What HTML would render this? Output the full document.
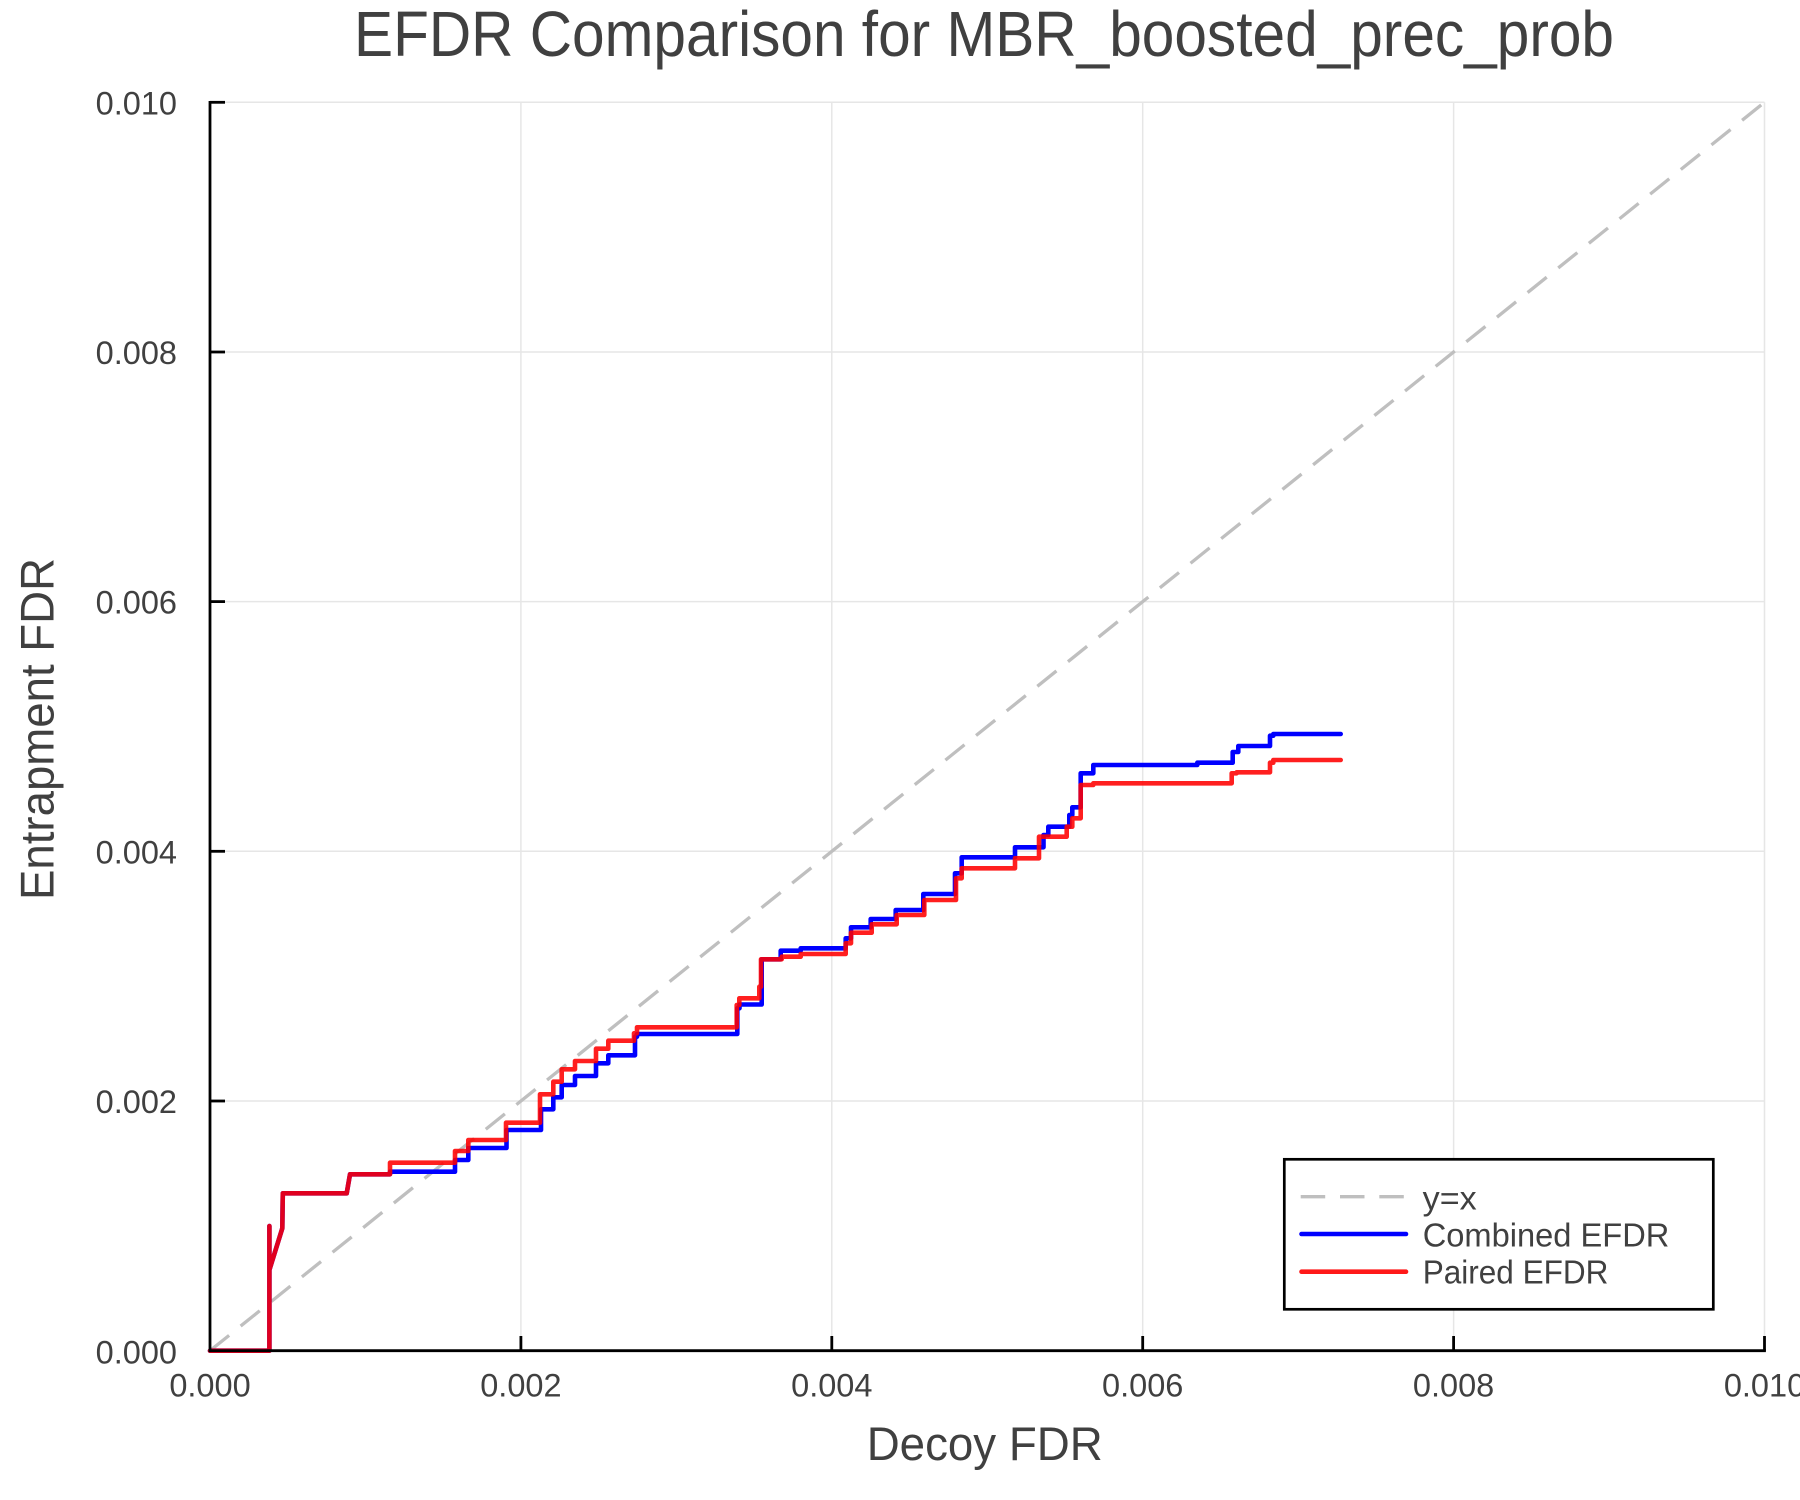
<!DOCTYPE html>
<html>
<head>
<meta charset="utf-8">
<style>
html,body{margin:0;padding:0;background:#fff;}
svg{display:block;}
text{font-family:"Liberation Sans",Arial,Helvetica,sans-serif;fill:#404040;}
</style>
</head>
<body>
<svg width="1800" height="1500" viewBox="0 0 1800 1500" xmlns="http://www.w3.org/2000/svg">
<rect x="0" y="0" width="1800" height="1500" fill="#fff"/>

<!-- grid -->
<g stroke="#e6e6e6" stroke-width="1.5">
  <line x1="520.9" y1="102.3" x2="520.9" y2="1350.7"/>
  <line x1="831.8" y1="102.3" x2="831.8" y2="1350.7"/>
  <line x1="1142.7" y1="102.3" x2="1142.7" y2="1350.7"/>
  <line x1="1453.6" y1="102.3" x2="1453.6" y2="1350.7"/>
  <line x1="1764.5" y1="102.3" x2="1764.5" y2="1350.7"/>
  <line x1="210" y1="1101" x2="1764.5" y2="1101"/>
  <line x1="210" y1="851.3" x2="1764.5" y2="851.3"/>
  <line x1="210" y1="601.6" x2="1764.5" y2="601.6"/>
  <line x1="210" y1="352" x2="1764.5" y2="352"/>
  <line x1="210" y1="102.3" x2="1764.5" y2="102.3"/>
</g>

<!-- y = x dashed -->
<line x1="210" y1="1350.7" x2="1764.5" y2="102.3" stroke="#bfbfbf" stroke-width="3.3" stroke-dasharray="24.5 14.8"/>

<!-- Combined EFDR (blue) -->
<polyline fill="none" stroke="#0000ff" stroke-width="4.6" stroke-linejoin="round" stroke-linecap="round" points="
210,1350.7 269.4,1350.7 269.4,1226 269.4,1270 282.3,1228.3 282.8,1193.3 346.7,1193.3 350,1174.3 390,1174.3 390,1171.7 455,1171.7 455,1160 468.3,1160 468.3,1148 506.5,1148 506.5,1130 541,1130 541,1109.3 553.3,1109.3 553.3,1097.3 561.7,1097.3 561.7,1085 575,1085 575,1076 596,1076 596,1063.3 608.3,1063.3 608.3,1055.3 635,1055.3 635,1036.7 637,1036.7 637,1034 737.3,1034 737.3,1008.3 739.5,1008.3 739.5,1004.5 761.7,1004.5 761.7,959.3 780.7,959.3 780.7,950.7 800.7,950.7 800.7,948.3 845.7,948.3 845.7,938.3 851,938.3 851,927.3 870.7,927.3 870.7,919 895.7,919 895.7,910 923.3,910 923.3,894 955,894 955,873.3 961.7,873.3 961.7,857.3 1015,857.3 1015,847.3 1043.5,847.3 1043.5,835 1048.3,835 1048.3,826.7 1069.3,826.7 1069.3,815 1072.3,815 1072.3,807.3 1080.7,807.3 1080.7,773.3 1093.3,773.3 1093.3,765 1197.3,765 1197.3,762.7 1232.7,762.7 1232.7,752 1238.3,752 1238.3,746 1270,746 1270,735.7 1273.3,735.7 1273.3,734 1340.7,734"/>

<!-- Paired EFDR (red) -->
<polyline fill="none" stroke="#ff0000" stroke-opacity="0.88" stroke-width="4.6" stroke-linejoin="round" stroke-linecap="round" points="
210,1350.7 269.4,1350.7 269.4,1226 269.4,1270 282.3,1228.3 282.8,1193.3 346.7,1193.3 350,1174.3 390,1174.3 390,1162.7 455,1162.7 455,1151 468.3,1151 468.3,1140 506,1140 506,1122.7 540,1122.7 540,1094.3 553.3,1094.3 553.3,1081.7 561.7,1081.7 561.7,1069.3 575,1069.3 575,1061 596,1061 596,1048.7 608.3,1048.7 608.3,1040.7 634,1040.7 634,1033.3 637,1033.3 637,1027.3 736.7,1027.3 736.7,1005 739.3,1005 739.3,998.3 759.3,998.3 759.3,986.7 761,986.7 761,959.3 781.7,959.3 781.7,956.7 800.7,956.7 800.7,954 845.7,954 845.7,943.3 851,943.3 851,932.7 871.7,932.7 871.7,924.3 896.7,924.3 896.7,915 924.3,915 924.3,900 956,900 956,878.3 961.7,878.3 961.7,868.3 1015,868.3 1015,858.3 1039,858.3 1039,836.7 1066.7,836.7 1066.7,826.7 1072.3,826.7 1072.3,818.3 1080.7,818.3 1080.7,785 1093.3,785 1093.3,783.3 1231.7,783.3 1231.7,773.3 1236.7,773.3 1236.7,772.3 1270,772.3 1270,762.7 1273.3,762.7 1273.3,760 1340.7,760"/>

<!-- axes -->
<g stroke="#000" stroke-width="2.8" fill="none">
  <line x1="210" y1="101" x2="210" y2="1352"/>
  <line x1="208.6" y1="1350.7" x2="1765.9" y2="1350.7"/>
  <!-- y ticks -->
  <line x1="210" y1="1101" x2="225" y2="1101"/>
  <line x1="210" y1="851.3" x2="225" y2="851.3"/>
  <line x1="210" y1="601.6" x2="225" y2="601.6"/>
  <line x1="210" y1="352" x2="225" y2="352"/>
  <line x1="210" y1="102.3" x2="225" y2="102.3"/>
  <!-- x ticks -->
  <line x1="520.9" y1="1350.7" x2="520.9" y2="1336"/>
  <line x1="831.8" y1="1350.7" x2="831.8" y2="1336"/>
  <line x1="1142.7" y1="1350.7" x2="1142.7" y2="1336"/>
  <line x1="1453.6" y1="1350.7" x2="1453.6" y2="1336"/>
  <line x1="1764.5" y1="1350.7" x2="1764.5" y2="1336"/>
</g>

<!-- y tick labels -->
<g font-size="32.5" text-anchor="end">
  <text x="177" y="1363.3">0.000</text>
  <text x="177" y="1113">0.002</text>
  <text x="177" y="863.3">0.004</text>
  <text x="177" y="613.6">0.006</text>
  <text x="177" y="364">0.008</text>
  <text x="177" y="114.5">0.010</text>
</g>

<!-- x tick labels -->
<g font-size="32.5" text-anchor="middle">
  <text x="210" y="1396.7">0.000</text>
  <text x="520.9" y="1396.7">0.002</text>
  <text x="831.8" y="1396.7">0.004</text>
  <text x="1142.7" y="1396.7">0.006</text>
  <text x="1453.6" y="1396.7">0.008</text>
  <text x="1764.5" y="1396.7">0.010</text>
</g>

<!-- title -->
<text x="984" y="56" font-size="64" text-anchor="middle" textLength="1260" lengthAdjust="spacingAndGlyphs">EFDR Comparison for MBR_boosted_prec_prob</text>

<!-- axis labels -->
<text x="984.7" y="1460" font-size="47" text-anchor="middle" textLength="236" lengthAdjust="spacingAndGlyphs">Decoy FDR</text>
<text transform="translate(53.5,729) rotate(-90)" x="0" y="0" font-size="47" text-anchor="middle" textLength="342" lengthAdjust="spacingAndGlyphs">Entrapment FDR</text>

<!-- legend -->
<rect x="1284.3" y="1159.3" width="429" height="150" fill="#fff" stroke="#000" stroke-width="2.7"/>
<line x1="1300.7" y1="1196.7" x2="1406.7" y2="1196.7" stroke="#bfbfbf" stroke-width="3.3" stroke-dasharray="24.5 14.8"/>
<line x1="1301.5" y1="1234" x2="1406" y2="1234" stroke="#0000ff" stroke-width="4.6" stroke-linecap="round"/>
<line x1="1301.5" y1="1271.7" x2="1406" y2="1271.7" stroke="#ff0000" stroke-opacity="0.9" stroke-width="4.6" stroke-linecap="round"/>
<g font-size="33.5">
  <text x="1422.7" y="1209.7" textLength="54" lengthAdjust="spacingAndGlyphs">y=x</text>
  <text x="1422.7" y="1246.7" textLength="246.7" lengthAdjust="spacingAndGlyphs">Combined EFDR</text>
  <text x="1422.7" y="1283.3" textLength="185.7" lengthAdjust="spacingAndGlyphs">Paired EFDR</text>
</g>
</svg>
</body>
</html>
